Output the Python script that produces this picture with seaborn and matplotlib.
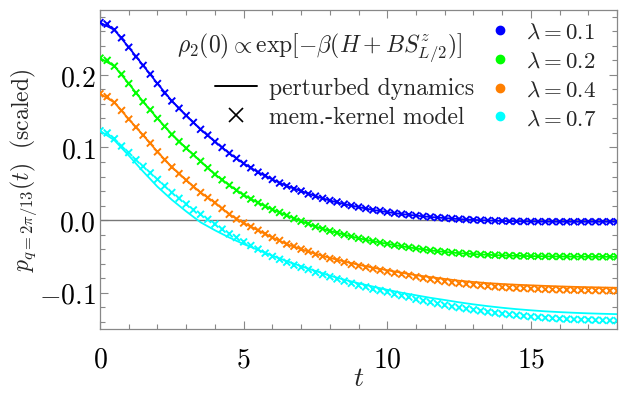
import numpy as np
import pandas as pd
import matplotlib
matplotlib.use("Agg")
import matplotlib.pyplot as plt
from matplotlib.lines import Line2D
from matplotlib.ticker import MultipleLocator
import seaborn as sns

# series labels and colours (Mathematica defaults)
LAMBDAS = ["0.1", "0.2", "0.4", "0.7"]
COLORS = ["#0000ff", "#00ff00", "#ff7f00", "#00ffff"]

# time grid of the solid curves (perturbed dynamics)
T_LINE = [0.0, 0.5, 1.0, 1.5, 2.0, 2.5, 3.0, 3.5, 4.0, 4.5, 5.0, 5.5, 6.0,
          6.5, 7.0, 7.5, 8.0, 8.5, 9.0, 9.5, 10.0, 10.5, 11.0, 11.5, 12.0,
          12.5, 13.0, 13.5, 14.0, 14.5, 15.0, 15.5, 16.0, 16.5, 17.0, 17.5, 18.0]

# time grid of the crosses (memory-kernel model)
T_MARK = [0.0, 0.25, 0.5, 0.75, 1.0, 1.25, 1.5, 1.75, 2.0, 2.25, 2.5, 2.75,
          3.0, 3.25, 3.5, 3.75, 4.0, 4.25, 4.5, 4.75, 5.0, 5.25, 5.5, 5.75,
          6.0, 6.25, 6.5, 6.75, 7.0, 7.25, 7.5, 7.75, 8.0, 8.25, 8.5, 8.75,
          9.0, 9.25, 9.5, 9.75, 10.0, 10.25, 10.5, 10.75, 11.0, 11.25, 11.5,
          11.75, 12.0, 12.25, 12.5, 12.75, 13.0, 13.25, 13.5, 13.75, 14.0,
          14.25, 14.5, 14.75, 15.0, 15.25, 15.5, 15.75, 16.0, 16.25, 16.5,
          16.75, 17.0, 17.25, 17.5, 17.75, 18.0]

LINE_01 = [0.272, 0.262, 0.238, 0.213, 0.188, 0.164, 0.144, 0.125, 0.108,
           0.092, 0.078, 0.066, 0.056, 0.047, 0.040, 0.033, 0.027, 0.022,
           0.018, 0.014, 0.011, 0.0083, 0.0062, 0.0043, 0.0028, 0.0014,
           0.0003, -0.0005, -0.0012, -0.0017, -0.0020, -0.0022, -0.0023,
           -0.0023, -0.0023, -0.0023, -0.0023]
LINE_02 = [0.223, 0.212, 0.188, 0.163, 0.140, 0.118, 0.099, 0.081, 0.063,
           0.048, 0.0345, 0.024, 0.0145, 0.0065, -0.0015, -0.009, -0.015,
           -0.020, -0.025, -0.029, -0.0328, -0.036, -0.039, -0.0417, -0.0438,
           -0.0455, -0.0468, -0.0478, -0.0486, -0.0492, -0.0496, -0.0499,
           -0.0501, -0.0503, -0.0504, -0.0505, -0.0505]
LINE_04 = [0.174, 0.162, 0.139, 0.117, 0.094, 0.073, 0.055, 0.038, 0.024,
           0.008, -0.004, -0.014, -0.024, -0.033, -0.040, -0.0465, -0.052,
           -0.057, -0.0615, -0.0655, -0.069, -0.0725, -0.0758, -0.0785,
           -0.081, -0.0835, -0.0852, -0.0868, -0.088, -0.089, -0.0898,
           -0.0906, -0.0913, -0.0919, -0.0924, -0.0928, -0.0932]
LINE_07 = [0.123, 0.110, 0.089, 0.067, 0.046, 0.028, 0.012, -0.003, -0.014,
           -0.024, -0.033, -0.041, -0.049, -0.0565, -0.0635, -0.070, -0.0765,
           -0.082, -0.087, -0.0915, -0.096, -0.100, -0.1035, -0.107, -0.110,
           -0.1132, -0.116, -0.1185, -0.1207, -0.1226, -0.1242, -0.1256,
           -0.1267, -0.1276, -0.1284, -0.129, -0.1295]

MARK_01 = [0.272, 0.270, 0.262, 0.251, 0.238,
           0.225, 0.213, 0.201, 0.188, 0.175,
           0.164, 0.154, 0.144, 0.1345, 0.125,
           0.117, 0.108, 0.100, 0.092, 0.085,
           0.078, 0.072, 0.066, 0.061, 0.056,
           0.051, 0.047, 0.043, 0.040, 0.036,
           0.033, 0.030, 0.027, 0.025, 0.022,
           0.020, 0.018, 0.016, 0.014, 0.013,
           0.011, 0.0095, 0.0083, 0.0072, 0.0062,
           0.0052, 0.0043, 0.0035, 0.0028, 0.0021,
           0.0014, 0.0008, 0.0003, -0.0001, -0.0005,
           -0.0009, -0.0012, -0.0015, -0.0017, -0.0019,
           -0.0020, -0.0021, -0.0022, -0.0022, -0.0023,
           -0.0023, -0.0023, -0.0023, -0.0023, -0.0023,
           -0.0023, -0.0023, -0.0023]
MARK_02 = [0.223, 0.220, 0.212, 0.201, 0.188,
           0.175, 0.163, 0.152, 0.140, 0.129,
           0.118, 0.108, 0.099, 0.090, 0.081,
           0.072, 0.063, 0.0555, 0.048, 0.041,
           0.0345, 0.029, 0.024, 0.019, 0.0145,
           0.0105, 0.0065, 0.002, -0.0015, -0.005,
           -0.009, -0.012, -0.015, -0.0175, -0.020,
           -0.0225, -0.025, -0.027, -0.029, -0.031,
           -0.0328, -0.0345, -0.036, -0.0375, -0.039,
           -0.0405, -0.0417, -0.0428, -0.0438, -0.0447,
           -0.0455, -0.0462, -0.0468, -0.0473, -0.0478,
           -0.0482, -0.0486, -0.0489, -0.0492, -0.0494,
           -0.0496, -0.0498, -0.0499, -0.0500, -0.0501,
           -0.0502, -0.0503, -0.0503, -0.0504, -0.0504,
           -0.0505, -0.0505, -0.0505]
MARK_04 = [0.174, 0.170, 0.162, 0.151, 0.139,
           0.128, 0.117, 0.106, 0.094, 0.083,
           0.073, 0.064, 0.055, 0.046, 0.038,
           0.031, 0.024, 0.016, 0.008, 0.0015,
           -0.004, -0.009, -0.014, -0.019, -0.024,
           -0.028, -0.033, -0.036, -0.040, -0.043,
           -0.047, -0.050, -0.053, -0.055, -0.058,
           -0.061, -0.063, -0.065, -0.067, -0.069,
           -0.071, -0.073, -0.0745, -0.076, -0.078,
           -0.080, -0.0815, -0.083, -0.0845, -0.086,
           -0.087, -0.088, -0.089, -0.090, -0.091,
           -0.0918, -0.0925, -0.0931, -0.0936, -0.094,
           -0.0945, -0.0949, -0.0953, -0.0956, -0.0959,
           -0.0961, -0.0964, -0.0966, -0.0968, -0.097,
           -0.0972, -0.0973, -0.0975]
MARK_07 = [0.123, 0.120, 0.112, 0.102, 0.093,
           0.083, 0.074, 0.065, 0.056, 0.047,
           0.038, 0.030, 0.022, 0.014, 0.008,
           0.001, -0.0055, -0.0125, -0.019, -0.024,
           -0.030, -0.035, -0.040, -0.0455, -0.050,
           -0.054, -0.058, -0.062, -0.065, -0.068,
           -0.072, -0.075, -0.078, -0.081, -0.084,
           -0.087, -0.090, -0.092, -0.095, -0.097,
           -0.099, -0.102, -0.104, -0.106, -0.109,
           -0.111, -0.113, -0.115, -0.117, -0.119,
           -0.1205, -0.122, -0.1235, -0.125, -0.1265,
           -0.1278, -0.129, -0.130, -0.131, -0.132,
           -0.133, -0.1338, -0.1345, -0.1352, -0.1358,
           -0.1363, -0.1367, -0.1371, -0.1374, -0.1377,
           -0.138, -0.1382, -0.1384]

X_TICKS = [0, 5, 10, 15]
X_TICKLABELS = ["$0$", "$5$", "$10$", "$15$"]
Y_TICKS = [-0.1, 0.0, 0.1, 0.2]
Y_TICKLABELS = ["$-0.1$", "$0.0$", "$0.1$", "$0.2$"]

sns.set_theme(style="ticks")
plt.rcParams["font.family"] = ["cmr10", "DejaVu Serif"]
plt.rcParams["mathtext.fontset"] = "cm"
plt.rcParams["axes.unicode_minus"] = False
plt.rcParams["axes.formatter.use_mathtext"] = True

lines = pd.concat([pd.DataFrame({"t": T_LINE, "p": v, "lam": lam})
                   for lam, v in zip(LAMBDAS, [LINE_01, LINE_02, LINE_04, LINE_07])])
marks = pd.concat([pd.DataFrame({"t": T_MARK, "p": v, "lam": lam})
                   for lam, v in zip(LAMBDAS, [MARK_01, MARK_02, MARK_04, MARK_07])])
pal = dict(zip(LAMBDAS, COLORS))

fig = plt.figure(figsize=(6.2, 4.02), dpi=100)
ax = fig.add_axes([0.1613, 0.179, 0.834, 0.794])

ax.axhline(0, color="#777777", lw=1.0, zorder=1)
sns.lineplot(data=lines, x="t", y="p", hue="lam", palette=pal, lw=1.3,
             errorbar=None, legend=False, ax=ax, zorder=2)
sns.scatterplot(data=marks, x="t", y="p", hue="lam", palette=pal, marker="x",
                s=24, linewidth=1.4, legend=False, ax=ax, zorder=3)

ax.set_xlim(0, 18)
ax.set_ylim(-0.15, 0.2895)
ax.set_xticks(X_TICKS, labels=X_TICKLABELS)
ax.set_yticks(Y_TICKS, labels=Y_TICKLABELS)
ax.xaxis.set_minor_locator(MultipleLocator(1))
ax.yaxis.set_minor_locator(MultipleLocator(0.02))
ax.tick_params(which="both", direction="in", top=True, right=True,
               color="#888888", width=0.8, labelsize=20, labelcolor="black")
ax.tick_params(which="major", length=6)
ax.tick_params(which="minor", length=3.5)
ax.tick_params(axis="x", pad=12)
ax.tick_params(axis="y", pad=3)
for sp in ax.spines.values():
    sp.set_color("#888888")
    sp.set_linewidth(0.9)

ax.set_xlabel("$t$", fontsize=20)
ax.set_ylabel(r"$p_{q=2\pi/13}(t)\ \ \mathrm{(scaled)}$", fontsize=17)
ax.xaxis.set_label_coords(0.5, -0.113)
ax.yaxis.set_label_coords(-0.118, 0.5)

ax.text(0.148, 0.884, r"$\rho_2(0) \propto \exp[-\beta(H + BS^z_{L/2})]$",
        transform=ax.transAxes, fontsize=17, ha="left", va="center")

h1 = [Line2D([], [], color="black", lw=1.4),
      Line2D([], [], color="black", marker="x", ls="none", ms=10, mew=1.2)]
leg1 = ax.legend(h1, ["perturbed dynamics", "mem.-kernel model"],
                 loc="upper left", bbox_to_anchor=(0.222, 0.79),
                 frameon=False, fontsize=17, handlelength=1.8,
                 handletextpad=0.5, borderpad=0, borderaxespad=0,
                 labelspacing=0.3)
ax.add_artist(leg1)

h2 = [Line2D([], [], color=c, marker="o", ls="none", ms=6) for c in COLORS]
ax.legend(h2, [rf"$\lambda = {lam}$" for lam in LAMBDAS],
          loc="upper right", bbox_to_anchor=(0.96, 0.962), frameon=False,
          fontsize=16.5, handlelength=0.8, handletextpad=0.75, borderpad=0,
          borderaxespad=0, labelspacing=0.38)

fig.savefig("out.png", dpi=100)
